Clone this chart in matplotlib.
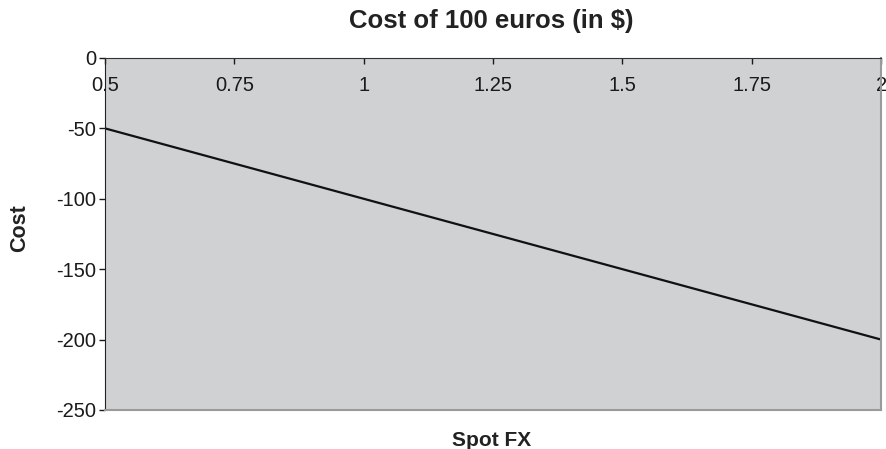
import matplotlib.pyplot as plt

plt.rcParams['font.family'] = ['Liberation Sans', 'DejaVu Sans']

# Spot FX rate and cost of 100 euros in dollars
spot_fx = [0.5, 0.6, 0.7, 0.8, 0.9, 1.0, 1.1, 1.2, 1.3, 1.4, 1.5, 1.6, 1.7, 1.8, 1.9, 2.0]
cost = [-50, -60, -70, -80, -90, -100, -110, -120, -130, -140, -150, -160, -170, -180, -190, -200]

x_ticks = [0.5, 0.75, 1.0, 1.25, 1.5, 1.75, 2.0]
x_tick_labels = ['0.5', '0.75', '1', '1.25', '1.5', '1.75', '2']
y_ticks = [0, -50, -100, -150, -200, -250]

fig = plt.figure(figsize=(8.86, 4.49), dpi=100)
ax = fig.add_axes([0.1185, 0.0869, 0.876, 0.784])
ax.set_facecolor('#d0d1d3')

ax.plot(spot_fx, cost, color='#111111', linewidth=1.6)

ax.set_xlim(0.5, 2.0)
ax.set_ylim(-250, 0)

# x axis sits on the top (y = 0) with labels inside the plot area
ax.xaxis.set_ticks_position('top')
ax.set_xticks(x_ticks)
ax.set_xticklabels(x_tick_labels)
ax.tick_params(axis='x', direction='in', length=4, width=1, pad=-27,
               labelsize=14.5, colors='#1a1a1a')

ax.set_yticks(y_ticks)
ax.set_yticklabels([str(v) for v in y_ticks])
ax.tick_params(axis='y', direction='out', length=4.5, width=1, pad=2,
               labelsize=14.5, colors='#1a1a1a')

ax.spines['top'].set_color('#333333')
ax.spines['left'].set_color('#222222')
ax.spines['bottom'].set_color('#9a9a9a')
ax.spines['right'].set_color('#9a9a9a')
ax.spines['bottom'].set_linewidth(1.5)
ax.spines['right'].set_linewidth(1.5)

fig.text(0.555, 0.953, 'Cost of 100 euros (in $)', ha='center', va='center',
         fontsize=18.5, fontweight='bold', color='#222222')
fig.text(0.555, 0.019, 'Spot FX', ha='center', va='center',
         fontsize=15, fontweight='bold', color='#222222')
fig.text(0.0226, 0.492, 'Cost', ha='center', va='center', rotation=90,
         fontsize=15.5, fontweight='bold', color='#222222')

fig.savefig('out.png', dpi=100)
